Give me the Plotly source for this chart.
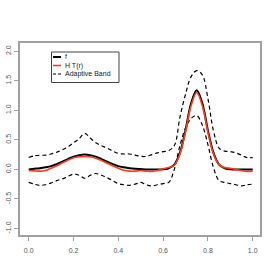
import plotly.graph_objects as go

x_vals = [0, .025, .05, .075, .1, .125, .15, .175, .2, .225, .25, .275, .3, .325, .35, .375,
          .4, .425, .45, .475, .5, .525, .55, .575, .6, .625, .65, .675, .7, .725, .75, .775,
          .8, .825, .85, .875, .9, .925, .95, .975, 1.0]

f_vals = [0.00, 0.01, 0.02, 0.035, 0.055, 0.09, 0.13, 0.175, 0.215, 0.24, 0.25, 0.24, 0.215,
          0.175, 0.13, 0.09, 0.055, 0.035, 0.02, 0.01, 0.005, 0.0, 0.0, 0.0, 0.0, 0.02, 0.08,
          0.28, 0.66, 1.12, 1.34, 1.12, 0.66, 0.28, 0.08, 0.02, 0.0, 0.0, 0.0, 0.0, 0.0]

ht_vals = [-0.02, -0.025, -0.03, -0.02, 0.02, 0.06, 0.11, 0.155, 0.195, 0.215, 0.22, 0.215,
           0.19, 0.15, 0.105, 0.06, 0.02, -0.015, -0.03, -0.03, -0.02, -0.03, -0.035, -0.02,
           0.01, 0.03, 0.07, 0.26, 0.63, 1.08, 1.30, 1.08, 0.63, 0.26, 0.08, 0.03, 0.02, 0.0,
           -0.02, -0.035, -0.03]

upper_vals = [0.20, 0.23, 0.24, 0.24, 0.26, 0.29, 0.33, 0.38, 0.45, 0.52, 0.61, 0.53, 0.45,
              0.40, 0.36, 0.31, 0.27, 0.26, 0.26, 0.24, 0.22, 0.22, 0.25, 0.28, 0.30, 0.32,
              0.40, 0.88, 1.27, 1.57, 1.67, 1.60, 1.20, 0.65, 0.36, 0.31, 0.30, 0.28, 0.24,
              0.20, 0.20]

lower_vals = [-0.22, -0.25, -0.27, -0.26, -0.23, -0.19, -0.16, -0.12, -0.08, -0.10, -0.15,
              -0.10, -0.07, -0.10, -0.14, -0.19, -0.24, -0.26, -0.27, -0.25, -0.22, -0.26,
              -0.28, -0.26, -0.24, -0.22, 0.0, 0.40, 0.70, 0.86, 0.91, 0.75, 0.42, 0.03,
              -0.19, -0.22, -0.24, -0.26, -0.28, -0.26, -0.25]

x_ticks = [0.0, 0.2, 0.4, 0.6, 0.8, 1.0]
x_tick_text = ["0.0", "0.2", "0.4", "0.6", "0.8", "1.0"]
y_ticks = [-1.0, -0.5, 0.0, 0.5, 1.0, 1.5, 2.0]
y_tick_text = ["-1.0", "-0.5", "0.0", "0.5", "1.0", "1.5", "2.0"]

legend_labels = ["f", "H T(r)", "Adaptive Band"]

W, H = 280, 280
ML, MR, MT, MB = 20, 20, 43, 45
PW, PH = W - ML - MR, H - MT - MB
RED = "#ff3a1a"
DASH = "4px,3px"


def px(xp):
    return (xp - ML) / PW


def py(yp):
    return (H - MB - yp) / PH


fig = go.Figure()
fig.add_trace(go.Scatter(x=x_vals, y=upper_vals, mode="lines", name="Adaptive Band",
                         line=dict(color="black", width=1.2, dash=DASH, shape="spline")))
fig.add_trace(go.Scatter(x=x_vals, y=lower_vals, mode="lines", name="Adaptive Band",
                         line=dict(color="black", width=1.2, dash=DASH, shape="spline")))
fig.add_trace(go.Scatter(x=x_vals, y=f_vals, mode="lines", name="f",
                         line=dict(color="black", width=2, shape="spline")))
fig.add_trace(go.Scatter(x=x_vals, y=ht_vals, mode="lines", name="H T(r)",
                         line=dict(color=RED, width=1.6, shape="spline")))

axis_common = dict(showgrid=False, zeroline=False, showline=True, mirror=True,
                   linecolor="#a0a0a0", linewidth=1.5, ticks="outside", ticklen=4,
                   tickcolor="#a0a0a0", tickwidth=1, automargin=False,
                   tickfont=dict(family="Liberation Sans, Arial", size=7, color="#555555"))

fig.update_layout(
    width=W, height=H,
    margin=dict(l=ML, r=MR, t=MT, b=MB, autoexpand=False),
    paper_bgcolor="white", plot_bgcolor="white",
    showlegend=False,
    xaxis=dict(range=[-0.0388, 1.0326], tickvals=x_ticks, ticktext=x_tick_text,
               ticklabelstandoff=4, **axis_common),
    yaxis=dict(range=[-1.11, 2.138], tickvals=y_ticks, ticktext=y_tick_text, tickangle=-90,
               **axis_common),
)

# legend box
fig.add_shape(type="rect", xref="paper", yref="paper",
              x0=px(51.5), x1=px(119), y0=py(52), y1=py(82.5),
              line=dict(color="#444444", width=1), fillcolor="white", layer="above")
rows = [57, 65.5, 74]
styles = [dict(color="black", width=2), dict(color=RED, width=1.6),
          dict(color="black", width=1, dash="3px,2px")]
for yrow, lab, st in zip(rows, legend_labels, styles):
    fig.add_shape(type="line", xref="paper", yref="paper",
                  x0=px(53), x1=px(61), y0=py(yrow), y1=py(yrow), line=st, layer="above")
    fig.add_annotation(xref="paper", yref="paper", x=px(63), y=py(yrow), text=lab,
                       showarrow=False, xanchor="left", yanchor="middle",
                       font=dict(family="Liberation Sans, Arial", size=7, color="#222222"))

fig.write_html("out.html", config={"displayModeBar": False},
               post_script="document.body.style.margin='0';document.body.style.overflow='hidden';")
